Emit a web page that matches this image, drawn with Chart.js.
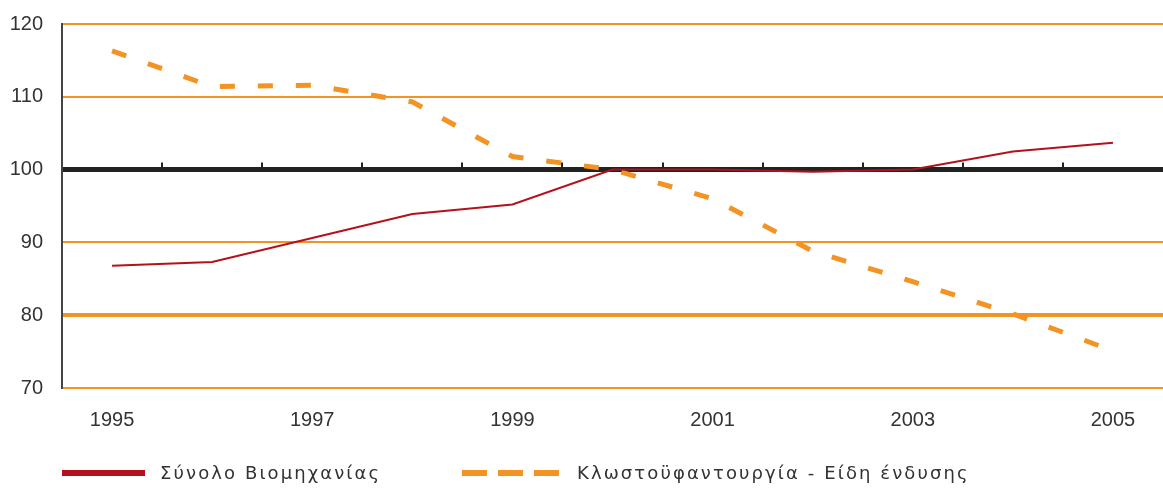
<!DOCTYPE html>
<html>
<head>
<meta charset="utf-8">
<script src="https://cdn.jsdelivr.net/npm/chart.js@4.4.1/dist/chart.umd.min.js"></script>
<style>
  html, body { margin: 0; padding: 0; background: #fff; }
  #wrap { width: 1163px; height: 488px; }
</style>
</head>
<body>
<div id="wrap"><canvas id="chart" width="1163" height="488"></canvas></div>
<script>
// data
const years = ['1995', '1996', '1997', '1998', '1999', '2000', '2001', '2002', '2003', '2004', '2005'];
const totalIndustry = [86.8, 87.3, 90.6, 93.9, 95.2, 100, 100, 99.7, 100, 102.5, 103.7];
const textiles = [116.3, 111.4, 111.6, 109.3, 101.8, 100, 96.0, 88.8, 84.6, 80.2, 75.1];
const seriesNames = ['Σύνολο Βιομηχανίας', 'Κλωστοϋφαντουργία - Είδη ένδυσης'];
const yTicks = [70, 80, 90, 100, 110, 120];

const RED = '#b3121c';
const ORANGE = '#f29324';
const TEXT = '#333';

// small tick marks sitting on the 100 line, between the years
const baseTicks = {
  id: 'baseTicks',
  beforeDatasetsDraw(chart) {
    const x = chart.scales.x, y = chart.scales.y;
    const y100 = y.getPixelForValue(100);
    const c = chart.ctx;
    c.save();
    c.strokeStyle = '#222';
    c.lineWidth = 2;
    for (let i = 0; i < years.length - 1; i++) {
      const px = Math.round((x.getPixelForValue(i) + x.getPixelForValue(i + 1)) / 2);
      c.beginPath();
      c.moveTo(px, y100 - 7);
      c.lineTo(px, y100);
      c.stroke();
    }
    c.restore();
  }
};

// legend drawn under the axis labels
const bottomLegend = {
  id: 'bottomLegend',
  afterDraw(chart) {
    const c = chart.ctx;
    const ly = 473;
    c.save();
    c.lineCap = 'butt';
    c.lineWidth = 6;
    c.strokeStyle = RED;
    c.beginPath();
    c.moveTo(62, ly);
    c.lineTo(145, ly);
    c.stroke();

    c.strokeStyle = ORANGE;
    c.setLineDash([25, 11]);
    c.beginPath();
    c.moveTo(462, ly);
    c.lineTo(559, ly);
    c.stroke();
    c.setLineDash([]);

    c.fillStyle = TEXT;
    c.font = '18px "DejaVu Sans"';
    c.letterSpacing = '2.1px';
    c.textBaseline = 'middle';
    c.fillText(seriesNames[0], 160, ly + 1);
    c.fillText(seriesNames[1], 577, ly + 1);
    c.restore();
  }
};

const ctx = document.getElementById('chart').getContext('2d');

new Chart(ctx, {
  type: 'line',
  data: {
    labels: years,
    datasets: [
      {
        label: seriesNames[0],
        data: totalIndustry,
        borderColor: RED,
        borderWidth: 2,
        pointRadius: 0,
        tension: 0
      },
      {
        label: seriesNames[1],
        data: textiles,
        borderColor: ORANGE,
        borderWidth: 5,
        borderDash: [15, 23],
        borderCapStyle: 'butt',
        pointRadius: 0,
        tension: 0
      }
    ]
  },
  options: {
    responsive: false,
    animation: false,
    layout: { padding: { top: 24, right: 0, bottom: 60, left: 0 } },
    plugins: {
      legend: { display: false },
      tooltip: { enabled: false }
    },
    scales: {
      x: {
        offset: true,
        grid: { display: false },
        border: { display: false },
        afterFit(s) { s.height = 40; },
        ticks: {
          autoSkip: false,
          maxRotation: 0,
          padding: 12,
          color: TEXT,
          font: { family: 'Liberation Sans', size: 20 },
          callback: (v, i) => (i % 2 === 0 ? years[i] : '')
        }
      },
      y: {
        min: yTicks[0],
        max: yTicks[yTicks.length - 1],
        afterFit(s) { s.width = 62; },
        afterBuildTicks(s) { s.ticks = yTicks.map(v => ({ value: v })); },
        border: { color: '#444', width: 2 },
        grid: {
          drawTicks: true,
          tickLength: 19,
          tickColor: 'rgba(0,0,0,0)',
          color: c => (c.tick.value === 100 ? '#222' : ORANGE),
          lineWidth: c => (c.tick.value === 100 ? 5 : c.tick.value === 80 ? 4 : 2)
        },
        ticks: {
          padding: 0,
          color: TEXT,
          font: { family: 'Liberation Sans', size: 20 }
        }
      }
    }
  },
  plugins: [baseTicks, bottomLegend]
});
</script>
</body>
</html>
